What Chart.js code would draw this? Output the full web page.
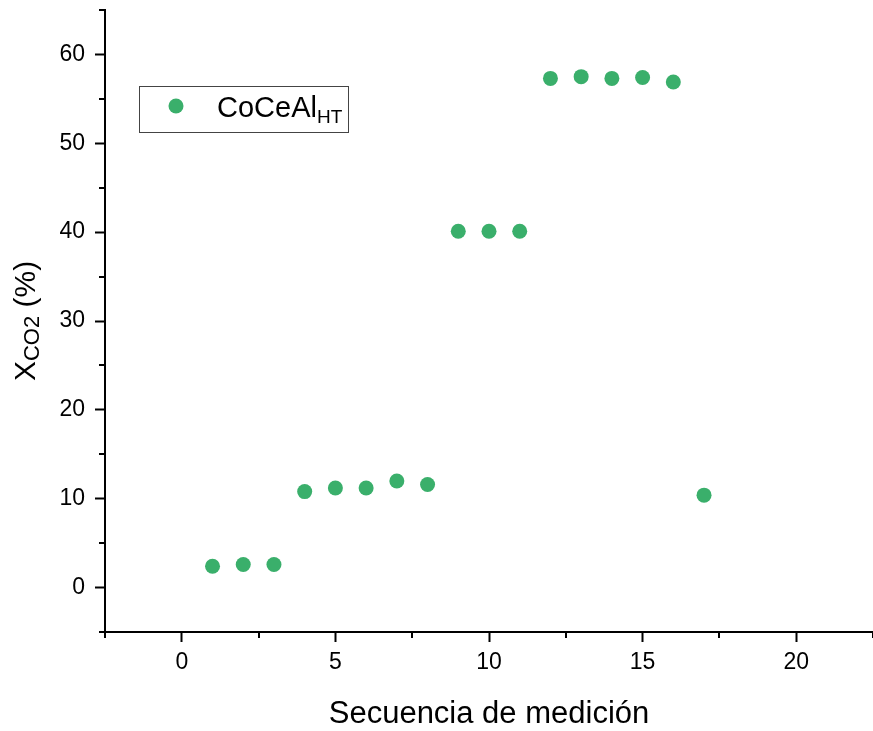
<!DOCTYPE html>
<html>
<head>
<meta charset="utf-8">
<script src="https://cdn.jsdelivr.net/npm/chart.js@4.4.1/dist/chart.umd.min.js"></script>
<style>
  html, body { margin: 0; padding: 0; background: #fff; }
  #wrap { width: 873px; height: 731px; }
</style>
</head>
<body>
<div id="wrap"><canvas id="chart" width="873" height="731"></canvas></div>
<script>
// measurement sequence and CO2 conversion (%)
const sequence = [1, 2, 3, 4, 5, 6, 7, 8, 9, 10, 11, 12, 13, 14, 15, 16, 17];
const conversion = [2.4, 2.6, 2.6, 10.8, 11.2, 11.2, 12.0, 11.6, 40.1, 40.1, 40.1, 57.3, 57.5, 57.3, 57.4, 56.9, 10.4];
const seriesName = 'CoCeAl';
const seriesSub = 'HT';
const xTitle = 'Secuencia de medición';

const green = '#3aaf6b';
const font = '"Liberation Sans", Arial, sans-serif';

// draws minor ticks, axis titles with subscripts and the boxed legend
const extras = {
    id: 'extras',
    afterDraw(chart) {
        const c = chart.ctx;
        const area = chart.chartArea;
        const xs = chart.scales.x, ys = chart.scales.y;
        c.save();
        c.strokeStyle = '#000';
        c.lineWidth = 2;
        // minor ticks
        xs.ticks.forEach(t => {
            if (t.value % 5 !== 0) {
                const px = Math.round(xs.getPixelForValue(t.value));
                c.beginPath();
                c.moveTo(px, area.bottom);
                c.lineTo(px, area.bottom + 6);
                c.stroke();
            }
        });
        ys.ticks.forEach(t => {
            if (t.value % 10 !== 0) {
                const py = Math.round(ys.getPixelForValue(t.value));
                c.beginPath();
                c.moveTo(area.left, py);
                c.lineTo(area.left - 6, py);
                c.stroke();
            }
        });

        // x title
        c.fillStyle = '#000';
        c.font = '31px ' + font;
        c.textAlign = 'center';
        c.textBaseline = 'alphabetic';
        c.fillText(xTitle, (area.left + area.right) / 2, 723);

        // y title: X_CO2 (%)
        c.save();
        c.translate(35, (area.top + area.bottom) / 2);
        c.rotate(-Math.PI / 2);
        c.textAlign = 'left';
        const big = '30px ' + font, small = '22px ' + font;
        c.font = big; const w1 = c.measureText('X').width;
        c.font = small; const w2 = c.measureText('CO2').width;
        c.font = big; const w3 = c.measureText(' (%)').width;
        let x0 = -(w1 + w2 + w3) / 2;
        c.font = big; c.fillText('X', x0, 0);
        c.font = small; c.fillText('CO2', x0 + w1, 4);
        c.font = big; c.fillText(' (%)', x0 + w1 + w2, 0);
        c.restore();

        // legend box
        const lx = area.left + 34, ly = area.top + 76;
        c.lineWidth = 1;
        c.strokeStyle = '#444';
        c.strokeRect(lx + 0.5, ly + 0.5, 209, 46);
        c.fillStyle = green;
        c.beginPath();
        c.arc(lx + 37, ly + 20, 7.5, 0, Math.PI * 2);
        c.fill();
        c.fillStyle = '#000';
        c.textAlign = 'left';
        c.font = '29px ' + font;
        c.fillText(seriesName, lx + 78, ly + 31);
        const wn = c.measureText(seriesName).width;
        c.font = '19px ' + font;
        c.fillText(seriesSub, lx + 78 + wn, ly + 37);
        c.restore();
    }
};

new Chart(document.getElementById('chart'), {
    type: 'scatter',
    data: {
        datasets: [{
            label: seriesName,
            data: sequence.map((s, i) => ({ x: s, y: conversion[i] })),
            backgroundColor: green,
            borderColor: green,
            pointRadius: 7.5,
            pointBorderWidth: 0
        }]
    },
    options: {
        responsive: false,
        animation: false,
        layout: { autoPadding: false, padding: { top: 10, right: 0, left: 0, bottom: 0 } },
        plugins: { legend: { display: false }, tooltip: { enabled: false } },
        scales: {
            x: {
                type: 'linear',
                min: -2.5, max: 22.5,
                afterFit(s) { s.height = 99; s.paddingLeft = 0; s.paddingRight = 0; },
                border: { display: true, color: '#000', width: 2 },
                grid: {
                    drawOnChartArea: false, drawTicks: true, tickLength: 10,
                    tickWidth: 2,
                    tickColor: ctx => (ctx.tick && ctx.tick.value % 5 === 0) ? '#000' : 'rgba(0,0,0,0)'
                },
                ticks: {
                    stepSize: 2.5,
                    autoSkip: false,
                    maxRotation: 0,
                    padding: 7,
                    color: '#000',
                    font: { family: font, size: 23 },
                    callback: v => v % 5 === 0 ? v : ''
                }
            },
            y: {
                type: 'linear',
                min: -5, max: 65,
                afterFit(s) { s.width = 105; s.paddingTop = 0; s.paddingBottom = 0; },
                border: { display: true, color: '#000', width: 2 },
                grid: {
                    drawOnChartArea: false, drawTicks: true, tickLength: 10,
                    tickWidth: 2,
                    tickColor: ctx => (ctx.tick && ctx.tick.value % 10 === 0) ? '#000' : 'rgba(0,0,0,0)'
                },
                ticks: {
                    stepSize: 5,
                    autoSkip: false,
                    padding: 10,
                    color: '#000',
                    font: { family: font, size: 23 },
                    callback: v => v % 10 === 0 ? v : ''
                }
            }
        }
    },
    plugins: [extras]
});
</script>
</body>
</html>
